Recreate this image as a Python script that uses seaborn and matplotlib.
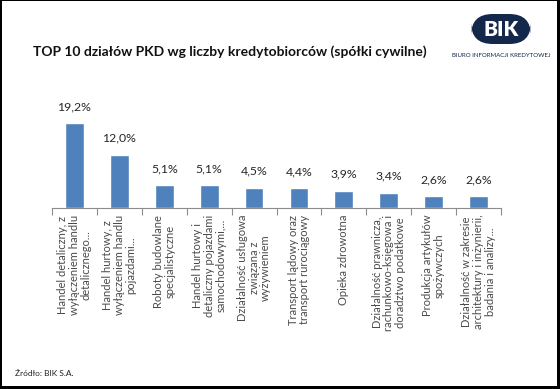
import matplotlib
matplotlib.use("Agg")
import matplotlib.pyplot as plt
import seaborn as sns
import pandas as pd
from matplotlib.patches import Rectangle, FancyBboxPatch

categories = [
    "Handel detaliczny, z\nwyłączeniem handlu\ndetalicznego...",
    "Handel hurtowy, z\nwyłączeniem handlu\npojazdami...",
    "Roboty budowlane\nspecjalistyczne",
    "Handel hurtowy i\ndetaliczny pojazdami\nsamochodowymi,...",
    "Działalność usługowa\nzwiązana z\nwyżywieniem",
    "Transport lądowy oraz\ntransport rurociągowy",
    "Opieka zdrowotna",
    "Działalność prawnicza,\nrachunkowo-księgowa i\ndoradztwo podatkowe",
    "Produkcja artykułów\nspożywczych",
    "Działalność w zakresie\narchitektury i inżynierii,\nbadania i analizy...",
]
values = [19.2, 12.0, 5.1, 5.1, 4.5, 4.4, 3.9, 3.4, 2.6, 2.6]
title = "TOP 10 działów PKD wg liczby kredytobiorców (spółki cywilne)"
source = "Źródło: BIK S.A."

sns.set_theme(style="white")
plt.rcParams["font.family"] = ["Lato", "DejaVu Sans"]

W, H = 560, 389
fig = plt.figure(figsize=(W / 100, H / 100), dpi=100)
fig.patch.set_facecolor("white")

def fx(px):
    return px / W

def fy(py):
    return 1 - py / H

base_y, top_y = 207.7, 100.0
ax = fig.add_axes([fx(52), fy(base_y), fx(501) - fx(52), (base_y - top_y) / H])
df = pd.DataFrame({"cat": categories, "val": values})
sns.barplot(data=df, x="cat", y="val", color="#4F81BD", saturation=1,
            width=0.42, ax=ax)
ax.set_xlim(-0.5, len(values) - 0.5)
ax.set_ylim(0, (base_y - top_y) / 4.4)
for s in ["top", "right", "left"]:
    ax.spines[s].set_visible(False)
ax.spines["bottom"].set_color("#8c8c8c")
ax.spines["bottom"].set_linewidth(0.8)
ax.set_yticks([])
ax.set_xlabel("")
ax.set_ylabel("")
ax.set_xticks(range(len(values)))
ax.set_xticklabels(categories, rotation=90, ha="center", va="top",
                   multialignment="center", fontsize=8.0, color="#4a4a4a",
                   linespacing=1.08)
ax.set_xticks([i - 0.5 for i in range(len(values) + 1)], minor=True)
ax.tick_params(axis="x", which="major", length=0, pad=5)
ax.tick_params(axis="x", which="minor", length=5, width=0.8, color="#8c8c8c",
               direction="out", bottom=True)

for i, v in enumerate(values):
    ax.annotate(f"{v:.1f}%".replace(".", ","), (i, v), xytext=(0, 8),
                textcoords="offset points", ha="center", va="bottom",
                fontsize=8.8, color="#262626")

fig.text(fx(33), fy(52), title, fontsize=10.0, fontweight="bold",
         color="#111111", ha="left", va="center")
fig.text(fx(15), fy(374), source, fontsize=6, color="#222222",
         ha="left", va="center")

# logo
navy = "#14284b"
lx0, lx1, ly0, ly1 = 471, 531, 14, 44
h = ly1 - ly0
r = h / 2
logo = FancyBboxPatch((fx(lx0), fy(ly1)), fx(lx1 - lx0), h / H,
                      boxstyle="round,pad=0,rounding_size=%f" % (r / H),
                      transform=fig.transFigure, facecolor=navy,
                      edgecolor="none", mutation_aspect=W / H)
fig.add_artist(logo)
fig.text(fx(501), fy(29.5), "BIK", fontsize=15, fontweight="heavy",
         color="white", ha="center", va="center")
fig.text(fx(501), fy(55.5), "BIURO INFORMACJI KREDYTOWEJ", fontsize=4.4,
         color=navy, ha="center", va="center")

# frame
for (x, y, w, hh) in [(0, 0, 2, H), (0, 0, W, 1), (W - 3, 0, 3, H), (0, H - 3, W, 3)]:
    fig.add_artist(Rectangle((fx(x), fy(y + hh)), w / W, hh / H,
                             transform=fig.transFigure, facecolor="black",
                             edgecolor="none"))

fig.savefig("out.png", dpi=100, facecolor="white")
